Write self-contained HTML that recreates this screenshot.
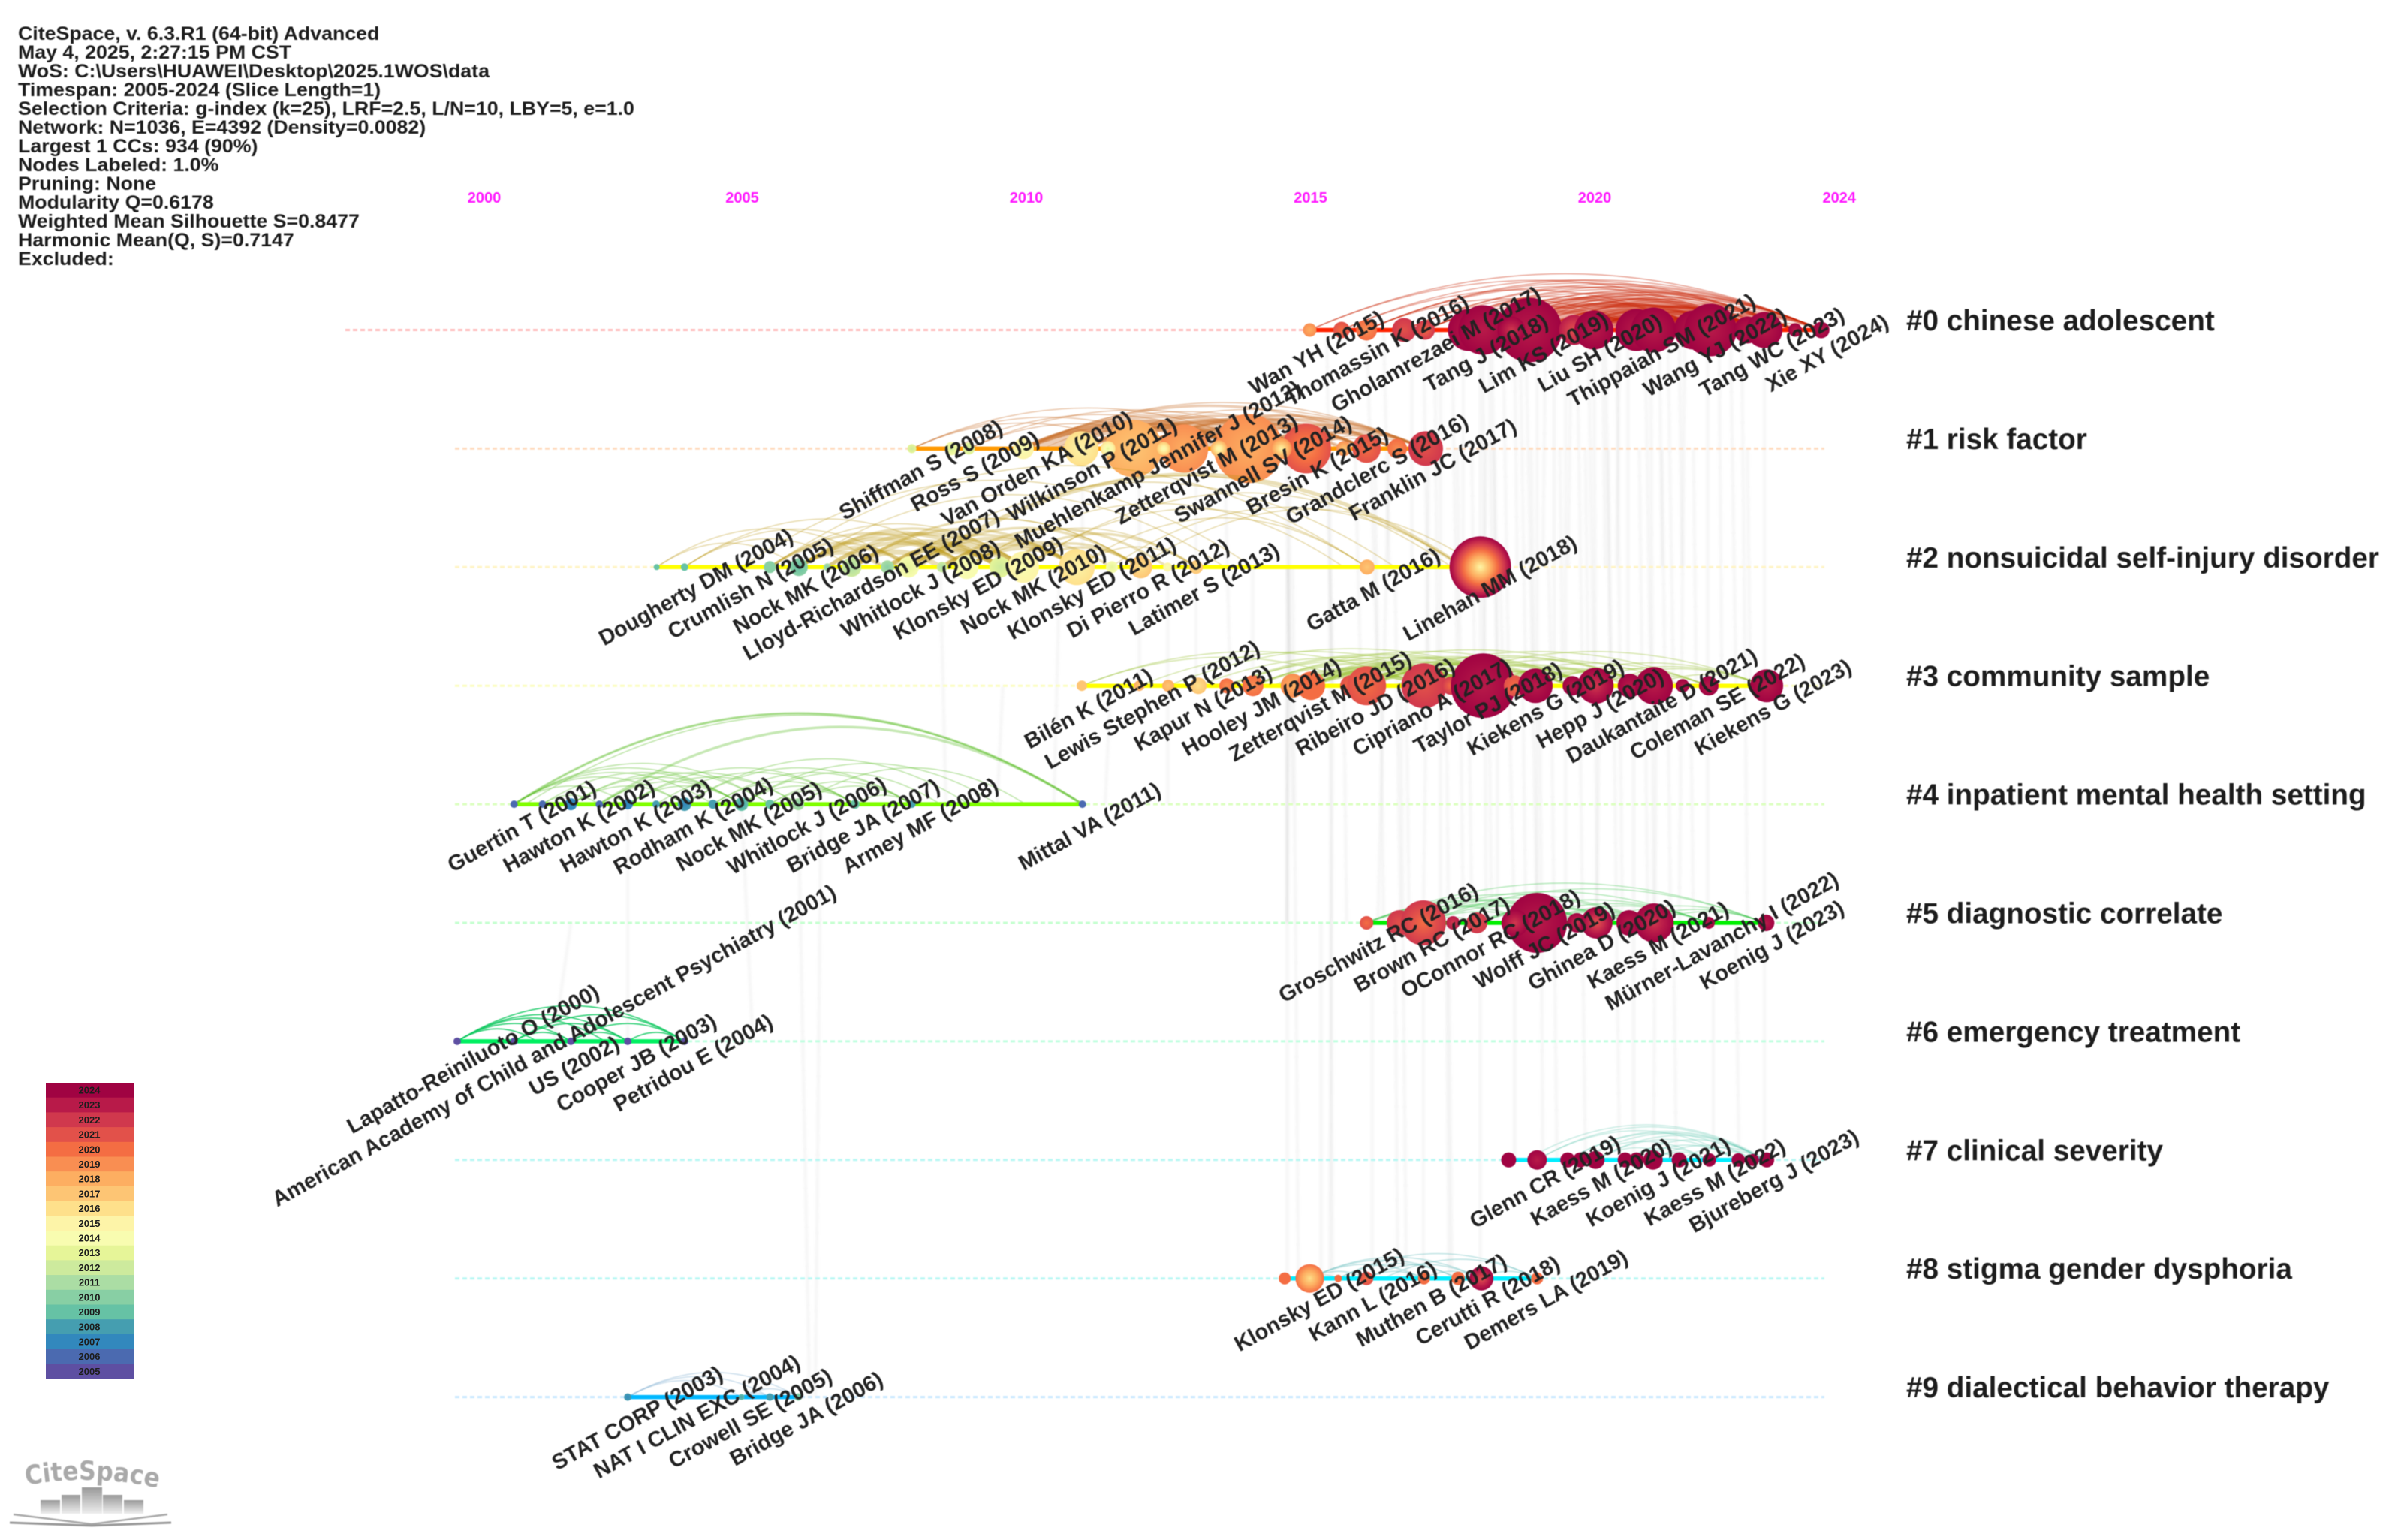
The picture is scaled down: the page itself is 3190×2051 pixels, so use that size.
<!DOCTYPE html>
<html lang="en">
<head>
<meta charset="utf-8">
<title>CiteSpace timeline view</title>
<style>
html,body{margin:0;padding:0;background:#fff;width:3190px;height:2051px;overflow:hidden}
svg{display:block;font-family:"Liberation Sans",Arial,sans-serif}
.hdr{font-size:24.6px;font-weight:bold;fill:#1c1c1c}
.lab{font-size:29px;font-weight:bold;fill:#222}
.clu{font-size:38.7px;font-weight:bold;fill:#1c1c1c}
.tick{font-size:20px;font-weight:bold;fill:#ff19ff;text-anchor:middle}
.leg{font-size:13px;font-weight:bold;fill:#1d1d1d;text-anchor:middle}
</style>
</head>
<body>
<svg id="chart" xmlns="http://www.w3.org/2000/svg" width="3190" height="2051" viewBox="0 0 3190 2051">
  <defs id="defs">
    <linearGradient id="bld" x1="0" y1="0" x2="0" y2="1"><stop offset="0" stop-color="#999"/><stop offset="1" stop-color="#eee"/></linearGradient>
    <path id="logoCurve" d="M35 1978 Q122 1962 212 1982"/>
  </defs>
  <rect width="3190" height="2051" fill="#fff"/>
  <g id="plot" style="filter:blur(.6px)"></g>
  <g transform="translate(24,0) scale(1.087,1) translate(-24,0)" style="filter:blur(.5px)">
    <text class="hdr" x="24" y="53">CiteSpace, v. 6.3.R1 (64-bit) Advanced</text>
    <text class="hdr" x="24" y="78">May 4, 2025, 2:27:15 PM CST</text>
    <text class="hdr" x="24" y="103">WoS: C:\Users\HUAWEI\Desktop\2025.1WOS\data</text>
    <text class="hdr" x="24" y="128">Timespan: 2005-2024 (Slice Length=1)</text>
    <text class="hdr" x="24" y="153">Selection Criteria: g-index (k=25), LRF=2.5, L/N=10, LBY=5, e=1.0</text>
    <text class="hdr" x="24" y="178">Network: N=1036, E=4392 (Density=0.0082)</text>
    <text class="hdr" x="24" y="203">Largest 1 CCs: 934 (90%)</text>
    <text class="hdr" x="24" y="228">Nodes Labeled: 1.0%</text>
    <text class="hdr" x="24" y="253">Pruning: None</text>
    <text class="hdr" x="24" y="278">Modularity Q=0.6178</text>
    <text class="hdr" x="24" y="303">Weighted Mean Silhouette S=0.8477</text>
    <text class="hdr" x="24" y="328">Harmonic Mean(Q, S)=0.7147</text>
    <text class="hdr" x="24" y="353">Excluded:</text>
  </g>
  <g id="legend"></g>
  <g style="filter:blur(.6px)">
    <text font-family="'DejaVu Sans',sans-serif" font-weight="bold" font-size="35" fill="#a9a9a9"><textPath href="#logoCurve" textLength="177" lengthAdjust="spacingAndGlyphs">CiteSpace</textPath></text>
    <rect x="54" y="1998" width="26" height="18" fill="url(#bld)"/>
    <rect x="82" y="1991" width="25" height="25" fill="url(#bld)"/>
    <rect x="109" y="1981" width="27" height="35" fill="url(#bld)"/>
    <rect x="137" y="1991" width="26" height="25" fill="url(#bld)"/>
    <rect x="165" y="1998" width="26" height="18" fill="url(#bld)"/>
    <path d="M18 2017 L122 2030 L223 2017" fill="none" stroke="#aaa" stroke-width="2.5"/>
    <path d="M13 2028 L122 2032 L228 2028" fill="none" stroke="#999" stroke-width="3"/>
  </g>
</svg>
<script>
/* ---------- chart data ---------- */
const tickYears = [2000, 2005, 2010, 2015, 2020, 2024];
const legendYears = [2024,2023,2022,2021,2020,2019,2018,2017,2016,2015,2014,2013,2012,2011,2010,2009,2008,2007,2006,2005];
const clusterNames = ['#0 chinese adolescent','#1 risk factor','#2 nonsuicidal self-injury disorder','#3 community sample','#4 inpatient mental health setting','#5 diagnostic correlate','#6 emergency treatment','#7 clinical severity','#8 stigma gender dysphoria','#9 dialectical behavior therapy'];

/* nodes: [year, size, firstRingYear, lastRingYear] */
const nodes0 = [[2015,9,2018,2019],[2015.56,11,2020,2021],[2016,14,2019,2020],[2016.66,16,2021,2022],[2017.03,13,2020,2022],[2017.8,28,2023,2024],[2018.05,33,2023,2024],[2018.87,43,2023,2024],[2018.55,18,2022,2024],[2019.65,20,2021,2023],[2020,26,2023,2024],[2020.75,28,2023,2024],[2021.05,30,2023,2024],[2021.75,26,2023,2024],[2022.05,35,2023,2024],[2022.7,18,2023,2024],[2023,24,2023,2024],[2023.54,9,2023,2024],[2024,11,2023,2024]];
const nodes1 = [[2008,6,2012,2013],[2008.7,9,2012,2014],[2009,8,2012,2013],[2009.96,14,2014,2015],[2010.98,23,2015,2016],[2011.9,38,2017,2018],[2011.45,10,2013,2016],[2012.79,32,2018,2019],[2012.43,9,2014,2017],[2013.92,46,2018,2019],[2013.4,11,2014,2018],[2014.94,33,2019,2021],[2014.5,14,2015,2019],[2015.6,10,2017,2019],[2016,19,2020,2021],[2016.54,13,2019,2020],[2017.04,23,2021,2022]];
const nodes2 = [[2003.51,4,2009,2009],[2004,5,2009,2009],[2005.5,8,2010,2010],[2006.01,12,2009,2010],[2006.51,5,2010,2011],[2006.94,13,2011,2012],[2007.57,9,2010,2011],[2007.94,14,2013,2014],[2008.53,7,2011,2012],[2008.96,16,2014,2014],[2009.55,14,2012,2013],[2009.96,21,2014,2015],[2010.9,24,2015,2016],[2011.52,8,2013,2014],[2012.03,15,2016,2017],[2012.5,6,2014,2015],[2013,9,2016,2017],[2016.01,10,2017,2018],[2018,41,2015,2024]];
const nodes3 = [[2010.99,7,2017,2017],[2012,7,2017,2018],[2012.51,8,2017,2018],[2013.04,11,2016,2017],[2013.54,10,2019,2020],[2014,14,2019,2020],[2014.7,16,2018,2019],[2015.02,19,2020,2020],[2015.72,14,2020,2021],[2016,26,2020,2021],[2017.01,30,2021,2022],[2017.48,12,2020,2022],[2018.05,43,2023,2024],[2018.6,14,2020,2021],[2018.97,23,2023,2024],[2019.62,13,2023,2024],[2020.03,24,2022,2024],[2020.63,16,2023,2024],[2021.06,25,2023,2024],[2021.56,9,2023,2024],[2022.02,13,2023,2024],[2023.04,22,2023,2024]];
const nodes4 = [[2001,5,2006,2006],[2001.5,5,2006,2006],[2002,8,2007,2007],[2002.5,5,2006,2006],[2003,7,2007,2007],[2003.5,5,2008,2008],[2004,9,2007,2008],[2004.5,6,2008,2008],[2005,9,2008,2009],[2005.5,6,2009,2009],[2006,8,2010,2011],[2007,6,2009,2009],[2008,5,2008,2008],[2011,5,2006,2006]];
const nodes5 = [[2016,9,2020,2021],[2016.58,17,2021,2022],[2017,30,2020,2022],[2017.52,9,2022,2023],[2017.94,14,2021,2022],[2019,40,2023,2024],[2018.61,18,2022,2024],[2019.7,13,2022,2024],[2020.05,21,2021,2024],[2020.62,17,2023,2024],[2021.06,26,2022,2024],[2022.02,8,2023,2024],[2023.03,11,2023,2024]];
const nodes6 = [[2000,5,2005,2005],[2001,5,2005,2005],[2002,5,2005,2005],[2003,5,2005,2005],[2004,5,2005,2005]];
const nodes7 = [[2018.5,10,2024,2024],[2019,13,2023,2024],[2019.54,10,2024,2024],[2019.76,10,2024,2024],[2020.03,12,2024,2024],[2020.55,10,2024,2024],[2020.75,10,2024,2024],[2021.04,13,2024,2024],[2021.5,10,2024,2024],[2022.03,9,2024,2024],[2022.54,9,2024,2024],[2022.8,8,2024,2024],[2023.04,10,2024,2024]];
const nodes8 = [[2014.56,8,2020,2020],[2015,19,2016,2020],[2015.5,5,2020,2020],[2016,9,2020,2021],[2017.01,8,2020,2020],[2017.61,9,2020,2020],[2018.02,16,2021,2024],[2019,8,2020,2020]];
const nodes9 = [[2003,5,2007,2008],[2005,4,2008,2009],[2005.5,5,2008,2008],[2006,5,2009,2010]];
const rowNodes = [nodes0,nodes1,nodes2,nodes3,nodes4,nodes5,nodes6,nodes7,nodes8,nodes9];

/* citation arcs: [fromYear, toYear, optional weight] */
const links0 = [[2015,2024],[2015,2022.95],[2015.56,2023.54],[2015.56,2022],[2016,2024],[2016,2023.54],[2016,2022.95],[2016,2021],[2016.66,2024],[2016.66,2023.54],[2016.66,2022],[2017.03,2024],[2017.03,2023.54],[2017.03,2022.95],[2017.03,2022],[2017.03,2020.9],[2017.5,2023.6],[2017.6,2024],[2017.6,2023],[2017.7,2022.9],[2017.8,2023.5],[2017.9,2024],[2018,2024],[2018,2023.54],[2018,2022.95,2],[2018,2022,3],[2018,2020.9,3],[2018.2,2023.2],[2018.2,2022.5,2],[2018.3,2024],[2018.4,2023,2],[2018.5,2023.5],[2018.6,2022.6,3],[2018.7,2024],[2018.8,2022.9,3],[2019,2024],[2019,2023.54],[2019,2022.95,2],[2019,2022,4],[2019,2020.9,4],[2019,2019.92,4],[2019.2,2023,2],[2019.3,2022.4,4],[2019.4,2021.5,4],[2019.5,2023.2,2],[2019.6,2022.6,4],[2019.7,2021.8,4],[2019.92,2024],[2019.92,2023.54],[2019.92,2022.95,3],[2019.92,2022,4],[2019.92,2020.9,4],[2020.2,2023,3],[2020.4,2022.5,4],[2020.5,2021.8,4],[2020.9,2024,2],[2020.9,2023.54,2],[2020.9,2022.95,3],[2020.9,2022,3],[2021.3,2023.5,2],[2021.5,2024,2],[2022,2024,2],[2022,2023.54,2],[2022,2022.95,2],[2022.95,2024],[2022.95,2023.54]];
const links1 = [[2008,2014.2],[2008,2012.8],[2008,2011.9],[2008.7,2013.9],[2009,2014.9],[2009,2012.8],[2009.96,2017],[2009.96,2016.5,2],[2009.96,2015.6],[2009.96,2014.9,3],[2009.96,2014,4],[2009.96,2013.4,4],[2009.96,2012.8,3],[2010.2,2014.3,4],[2010.4,2013.9,4],[2010.6,2014,4],[2010.98,2016,2],[2010.98,2014.94,3],[2010.98,2014,4],[2010.98,2012.8,3],[2011.3,2015.6,3],[2011.5,2016,2],[2011.9,2017,2],[2011.9,2016.5,2],[2011.9,2016,2],[2011.9,2014.94,3],[2011.9,2014,3],[2012.3,2016,2],[2012.5,2017,2],[2012.79,2016.5,2],[2012.79,2016,2],[2012.79,2015,2],[2013.4,2017,2],[2013.92,2017.04,2],[2013.92,2016.5,2],[2013.92,2016,2],[2014.5,2017,2],[2014.94,2017.04],[2014.94,2016.5],[2015.6,2017.04],[2012,2017,1],[2011,2017,1]];
const links2 = [[2003.51,2006.01],[2003.51,2007.5],[2004,2006.94],[2004,2007.94],[2004,2009],[2005.5,2016],[2005.5,2008,2],[2005.5,2009,2],[2005.5,2010],[2006.01,2008,3],[2006.01,2008.96,3],[2006.01,2009.55,3],[2006.01,2010,2],[2006.01,2007.5,3],[2006.51,2009,3],[2006.51,2009.96,3],[2006.94,2008.5,4],[2006.94,2009.55,4],[2006.94,2010.9,2],[2006.94,2012,1],[2007.57,2009.55,4],[2007.57,2009.96,4],[2007.57,2010.9,2],[2007.94,2009.55,4],[2007.94,2010.9,3],[2007.94,2012,2],[2008.53,2009.96,4],[2008.53,2010.9,3],[2008.53,2012.5,2],[2008.96,2011.5,2],[2008.96,2013,1],[2008.96,2010.9,3],[2009.55,2012,2],[2009.55,2013,2],[2009.96,2016],[2009.96,2012,2],[2010.9,2013],[2010.9,2016],[2008.1,2017.7,3],[2008,2017.5,1],[2007.7,2016.5],[2006,2013.5],[2005,2014],[2010,2017.7],[2011.5,2017.7],[2012,2018],[2009,2015.6],[2007,2012]];
const links3 = [[2010.99,2017],[2010.99,2016],[2012,2018],[2012.51,2019],[2013.04,2018],[2013.54,2018],[2013.54,2019,2],[2014,2020],[2014,2019],[2014,2018,2],[2014.4,2017.5,3],[2014.7,2017,3],[2014.7,2018,3],[2014.7,2019,2],[2014.7,2021],[2015,2017,3],[2015,2018,3],[2015,2019,2],[2015,2020,2],[2015.72,2018.6,3],[2015.72,2019.6,2],[2015.72,2021],[2016,2019,3],[2016,2020,2],[2016,2021],[2016,2022,1],[2016.5,2019.6,2],[2017,2019.6,2],[2017,2020.63,2],[2017,2021.56],[2017,2023],[2017.48,2020],[2018,2020,2],[2018,2021,2],[2018,2022],[2018.6,2021.06,2],[2018.97,2022.02],[2018.97,2023],[2019.62,2023],[2020,2023],[2020.03,2022],[2021,2023]];
const links4 = [[2001,2011],[2001,2011,2],[2001.2,2011],[2002.5,2011,2],[2001,2005],[2001,2005.5],[2001,2004.5],[2001,2004],[2001,2003],[2001.5,2005],[2001.5,2002.5],[2002,2005.5],[2002,2005],[2002,2004],[2002.5,2005],[2002.5,2006],[2003,2006],[2003,2005],[2003,2007],[2003.5,2007],[2004,2008],[2004,2009],[2004.5,2007],[2004.5,2008],[2005,2008.5],[2005,2007],[2005,2009.5],[2005.5,2007],[2005.5,2008],[2006,2008],[2006,2010],[2007,2008]];
const links5 = [[2016,2023],[2016.5,2022],[2017,2023],[2016,2020,2],[2016,2021.06],[2016,2019],[2016.58,2020.05],[2016.58,2021],[2016.6,2019.7,2],[2017,2018],[2017,2019],[2017,2020],[2017.94,2020.62,2],[2017.94,2022],[2018,2020.62],[2018.6,2022],[2019,2021.06,2],[2019,2022],[2019,2020.05,2],[2019.7,2021],[2020,2023],[2020.05,2022],[2020.62,2023],[2021,2023]];
const links6 = [[2000,2004],[2000,2003],[2000,2002.6],[2000,2002],[2000,2001.4],[2001,2004],[2001,2003],[2001,2002],[2002,2004],[2002,2003],[2003,2004]];
const links7 = [[2019,2023],[2018.8,2023.04],[2019,2022.54],[2019.54,2023],[2019.54,2022.8],[2019.76,2023],[2019.76,2022],[2020.03,2023],[2020.03,2022.5],[2020.03,2021.5],[2020.55,2023],[2020.55,2022],[2020.75,2022.54],[2021.04,2022.8],[2021.04,2022],[2021.5,2023],[2022,2023]];
const links8 = [[2015,2018],[2015,2017.6],[2015,2017],[2015,2016],[2015,2015.5],[2015.5,2017.6],[2015.5,2019],[2016,2018],[2016,2017],[2016.3,2019],[2017,2018],[2018,2019]];
const links9 = [[2003,2006],[2003,2005.5],[2003,2005],[2005,2006],[2005,2005.5]];
const rowLinks = [links0,links1,links2,links3,links4,links5,links6,links7,links8,links9];

/* node labels: [name, year] */
const labels0 = [['Wan YH',2015],['Thomassin K',2016],['Gholamrezaei M',2017],['Tang J',2018],['Lim KS',2019],['Liu SH',2020],['Thippaiah SM',2021],['Wang YJ',2022],['Tang WC',2023],['Xie XY',2024]];
const labels1 = [['Shiffman S',2008],['Ross S',2009],['Van Orden KA',2010],['Wilkinson P',2011],['Muehlenkamp Jennifer J',2012],['Zetterqvist M',2013],['Swannell SV',2014],['Bresin K',2015],['Grandclerc S',2016],['Franklin JC',2017]];
const labels2 = [['Dougherty DM',2004],['Crumlish N',2005],['Nock MK',2006],['Lloyd-Richardson EE',2007],['Whitlock J',2008],['Klonsky ED',2009],['Nock MK',2010],['Klonsky ED',2011],['Di Pierro R',2012],['Latimer S',2013],['Gatta M',2016],['Linehan MM',2018]];
const labels3 = [['Bilén K',2011],['Lewis Stephen P',2012],['Kapur N',2013],['Hooley JM',2014],['Zetterqvist M',2015],['Ribeiro JD',2016],['Cipriano A',2017],['Taylor PJ',2018],['Kiekens G',2019],['Hepp J',2020],['Daukantaite D',2021],['Coleman SE',2022],['Kiekens G',2023]];
const labels4 = [['Guertin T',2001],['Hawton K',2002],['Hawton K',2003],['Rodham K',2004],['Nock MK',2005],['Whitlock J',2006],['Bridge JA',2007],['Armey MF',2008],['Mittal VA',2011]];
const labels5 = [['Groschwitz RC',2016],['Brown RC',2017],['OConnor RC',2018],['Wolff JC',2019],['Ghinea D',2020],['Kaess M',2021],['Mürner-Lavanchy I',2022],['Koenig J',2023]];
const labels6 = [['Lapatto-Reiniluoto O',2000],['American Academy of Child and Adolescent Psychiatry',2001],['US',2002],['Cooper JB',2003],['Petridou E',2004]];
const labels7 = [['Glenn CR',2019],['Kaess M',2020],['Koenig J',2021],['Kaess M',2022],['Bjureberg J',2023]];
const labels8 = [['Klonsky ED',2015],['Kann L',2016],['Muthen B',2017],['Cerutti R',2018],['Demers LA',2019]];
const labels9 = [['STAT CORP',2003],['NAT I CLIN EXC',2004],['Crowell SE',2005],['Bridge JA',2006]];
const rowLabels = [labels0,labels1,labels2,labels3,labels4,labels5,labels6,labels7,labels8,labels9];

/* inter-cluster links: [yearA, rowA, yearB, rowB] */
const crossLinks = [[2014.6,2,2014.6,5],[2014.62,2,2014.7,4],[2014.6,3,2014.6,8],[2014.58,1,2014.65,3],[2014.65,1,2014.6,5],[2014.7,2,2014.8,8],[2015.3,1,2015.4,3],[2015.35,2,2015.4,8],[2015.4,3,2015.35,8],[2015.3,0,2015.4,3],[2016,0,2016.2,3],[2016.3,0,2016.4,2],[2016.4,1,2016.2,5],[2016.5,2,2016.6,5],[2016.6,3,2016.7,8],[2017,0,2017.1,3],[2017.1,1,2017,5],[2017.3,0,2017.3,5],[2017.4,3,2017.5,8],[2017.5,0,2017.6,3],[2017.6,1,2017.7,5],[2018,0,2018,3],[2018.05,0,2018.1,5],[2018.1,1,2018.05,3],[2018.2,0,2018.3,3],[2018.3,3,2018.3,5],[2018.4,0,2018.5,3],[2018.5,3,2018.6,5],[2018.7,0,2018.8,3],[2018.8,0,2019,5],[2019,0,2019,3],[2019,3,2019,5],[2019.05,3,2019.1,7],[2019.3,0,2019.3,3],[2019.5,0,2019.5,5],[2019.7,0,2019.8,3],[2019.9,0,2020,3],[2020,0,2020.05,5],[2020.1,3,2020.05,5],[2020.2,0,2020.3,3],[2020.4,0,2020.5,5],[2020.6,0,2020.6,3],[2020.7,3,2020.7,7],[2020.9,0,2021,3],[2021,0,2021.05,5],[2021.1,3,2021.05,7],[2021.3,0,2021.4,3],[2021.6,0,2021.5,5],[2022,0,2022,3],[2022,3,2022,5],[2022.1,5,2022.1,7],[2022.4,0,2022.5,3],[2022.6,0,2022.7,5],[2023,0,2023,3],[2023,3,2023,5],[2023,5,2023,7],[2012,1,2012,3],[2012.5,2,2012.5,4],[2013,1,2013,3],[2013.5,1,2013.6,3],[2014,2,2014,3],[2011,1,2011,2],[2011.5,3,2011.4,4],[2010.6,2,2010.5,4],[2009.6,3,2009.5,4],[2008.5,2,2008.6,4],[2006,4,2006.2,9],[2006.4,4,2006.3,9],[2005,4,2005.2,6],[2003,4,2003,6],[2002,5,2001.7,6],[2016.1,5,2016.1,8],[2017,5,2017,8],[2018,5,2018,8],[2015.2,5,2015.2,8],[2015.8,1,2015.9,3],[2016.15,1,2016.2,3],[2016.8,0,2016.8,2],[2017.2,0,2017.25,3],[2017.7,0,2017.7,2],[2017.85,1,2017.9,3],[2018.15,0,2018.2,2],[2018.25,1,2018.3,3],[2018.35,2,2018.4,3],[2018.6,0,2018.65,2],[2018.9,1,2018.95,3],[2019.15,0,2019.1,2],[2019.2,2,2019.25,3],[2019.4,1,2019.45,3],[2019.6,0,2019.55,2],[2019.85,1,2019.9,3],[2020.15,0,2020.2,2],[2020.25,1,2020.3,3],[2020.45,0,2020.4,2],[2020.8,1,2020.85,3],[2021.15,0,2021.2,2],[2021.2,1,2021.25,3],[2021.5,0,2021.55,2],[2021.75,1,2021.8,3],[2022.2,0,2022.25,3],[2022.7,1,2022.75,3],[2016.7,3,2016.75,5],[2017.8,3,2017.85,5],[2018.15,3,2018.2,5],[2018.75,3,2018.8,5],[2019.25,3,2019.3,5],[2019.75,3,2019.8,5],[2020.35,3,2020.4,5],[2020.9,3,2020.95,5],[2021.3,3,2021.35,5],[2021.7,3,2021.75,5],[2019.3,5,2019.35,7],[2019.8,5,2019.85,7],[2020.4,5,2020.45,7],[2021.4,5,2021.45,7],[2022.5,5,2022.55,7],[2018.6,5,2018.6,7],[2017.4,5,2017.45,8],[2016.5,5,2016.55,8],[2015.6,3,2015.65,5],[2016.25,3,2016.3,5]];

/* ---------- styling ---------- */
const legendColors = ['#a00342','#b81a49','#d0384d','#e2514a','#f46d43','#f98e52','#fdae61','#fdc574','#fee08b','#fdf4a8','#f8fcb0','#e6f598','#cdea9d','#abdda4','#88cfa4','#66c2a5','#459eb0','#3288bd','#4b6ab0','#5e4fa2'];
const dotColors = ['#ffbcbc','#ffddc2','#fff4c6','#fbfdc0','#dcffc0','#c6ffd0','#c0ffe0','#baf8f4','#baf8f4','#c8e8ff'];
const lineColors = ['#ff2200','#ff9900','#ffff00','#ffff00','#80ff00','#00f000','#00f060','#00eeff','#00eeff','#00b8ff'];
const arcColors = ['#c82000','#c8702a','#b8960f','#98c030','#60c030','#30c040','#10c860','#60c8b0','#70c0c0','#90b8d8'];
const arcRatio = [.11,.115,.17,.1,.16,.1,.157,.146,.125,.145];
const arcOpacity = [.36,.35,.3,.35,.36,.3,.8,.3,.4,.4];

/* ---------- scales ---------- */
function x(year){ return 609 + 75.7 * (year - 2000); }
function rowY(i){ return 439.5 + 157.9 * i; }
function rScale(size){ return size; }
function colorOf(year){ return legendColors[legendYears.indexOf(Math.round(year))]; }

const NS = 'http://www.w3.org/2000/svg';
const plot = document.getElementById('plot');
const defs = document.getElementById('defs');
function make(tag, parent, attrs){
  const el = document.createElementNS(NS, tag);
  for (const k in attrs) el.setAttribute(k, attrs[k]);
  parent.appendChild(el);
  return el;
}
function gradient(a, b){
  const id = 'g' + a + '_' + b;
  if (document.getElementById(id)) return id;
  const g = make('radialGradient', defs, {id: id});
  const steps = Math.max(1, b - a);
  for (let i = 0; i <= steps; i++){
    make('stop', g, {offset: i / steps, 'stop-color': colorOf(Math.min(a + i, b))});
  }
  return id;
}

/* cross-cluster links */
const crossG = make('g', plot, {fill: 'none', stroke: '#9a9a9a', 'stroke-width': 3, 'stroke-opacity': .13, style: 'filter:blur(1.5px)'});


crossLinks.forEach(function(c){
  const el = make('line', crossG, {x1: x(c[0]), y1: rowY(c[1]), x2: x(c[2]), y2: rowY(c[3])});
  
  
});

/* rows */
rowNodes.forEach(function(nodes, i){
  const y = rowY(i);
  const years = nodes.map(function(n){ return n[0]; });
  const first = Math.min.apply(null, years), last = Math.max.apply(null, years);

  const dotted = make('line', plot, {x1: i === 0 ? 460 : 606, x2: 2430, y1: y, y2: y, stroke: dotColors[i], 'stroke-width': 3, 'stroke-dasharray': '6 4'});
  
  

  const arcs = make('g', plot, {fill: 'none', stroke: arcColors[i], 'stroke-opacity': arcOpacity[i]});
  
  
  rowLinks[i].forEach(function(l){
    const a = x(l[0]), b = x(l[1]);
    const h = (b - a) * arcRatio[i];
    const arc = make('path', arcs, {d: 'M' + a + ' ' + y + ' Q' + (a + b) / 2 + ' ' + (y - 2 * h) + ' ' + b + ' ' + y, 'stroke-width': 1.7 * (l[2] || 1)});
    
    
  });

  const solid = make('line', plot, {x1: x(first), x2: x(last), y1: y, y2: y, stroke: lineColors[i], 'stroke-width': 5.5});
  
  

  nodes.forEach(function(n){
    const c = make('circle', plot, {cx: x(n[0]), cy: y, r: rScale(n[1]), fill: 'url(#' + gradient(n[2], n[3]) + ')'});
    
    
  });
});

/* node labels */
rowLabels.forEach(function(labels, i){
  labels.forEach(function(l){
    const t = make('text', plot, {'class': 'lab', transform: 'translate(' + x(l[1]) + ',' + (rowY(i) + 46) + ') rotate(-29)'});
    
    
    t.textContent = l[0] + ' (' + l[1] + ')';
    t.setAttribute('x', -0.4226 * t.getComputedTextLength());
  });
});

/* cluster labels */
clusterNames.forEach(function(name, i){
  const t = make('text', plot, {'class': 'clu', x: 2539, y: rowY(i) + 0.5});
  
  
  t.textContent = name;
});

/* year ticks */
tickYears.forEach(function(yr, i){
  const nudge = i === 0 ? 36 : (i === tickYears.length - 1 ? 24 : 1);
  const t = make('text', plot, {'class': 'tick', x: x(yr) + nudge, y: 270});
  
  
  t.textContent = yr;
});

/* legend */
const legend = document.getElementById('legend');
legendYears.forEach(function(yr, i){
  const top = 1442 + i * 19.7;
  const band = make('rect', legend, {x: 61, y: top, width: 117, height: 20.2, fill: colorOf(yr)});
  
  
  const t = make('text', legend, {'class': 'leg', x: 119, y: top + 14.5});
  
  
  t.textContent = yr;
});
</script>
</body>
</html>
